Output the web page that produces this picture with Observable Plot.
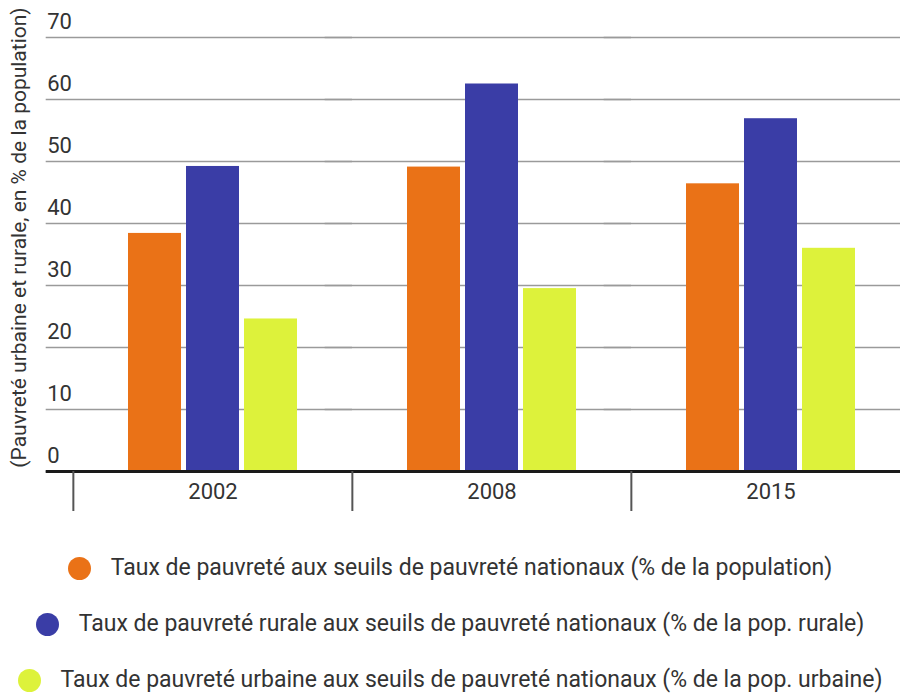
<!DOCTYPE html>
<html>
<head>
<meta charset="utf-8">
<script src="https://cdn.jsdelivr.net/npm/d3@7"></script>
<script src="https://cdn.jsdelivr.net/npm/@observablehq/plot@0.6"></script>
<style>
  body { margin: 0; background: #fff; font-family: Roboto, "Noto Sans", sans-serif; }
  #wrap { position: relative; width: 900px; height: 697px; overflow: hidden; background: #fff; }
  #legend { position: absolute; left: 0; top: 520px; width: 900px; padding-top: 20px; }
  .item { display: flex; align-items: center; justify-content: center; height: 56px; }
  .sw { width: 23px; height: 23px; border-radius: 50%; margin-right: 20px; flex: none; }
  .lbl { font-size: 23px; line-height: 26px; color: #333; white-space: nowrap; }
</style>
</head>
<body>
<div id="wrap"><div id="chart"></div><div id="legend"></div></div>
<script>
const years = ["2002", "2008", "2015"];
const seriesNames = [
  "Taux de pauvreté aux seuils de pauvreté nationaux (% de la population)",
  "Taux de pauvreté rurale aux seuils de pauvreté nationaux (% de la pop. rurale)",
  "Taux de pauvreté urbaine aux seuils de pauvreté nationaux (% de la pop. urbaine)"
];
const national = [38.4, 49.1, 46.4];
const rural = [49.2, 62.5, 56.9];
const urban = [24.6, 29.5, 36.0];
const yTicks = [0, 10, 20, 30, 40, 50, 60, 70];
const colors = ["#EA7217", "#3A3DA6", "#DDF23B"];
const yTitle = "(Pauvreté urbaine et rurale, en % de la population)";

const seriesValues = [national, rural, urban];
const table = years.flatMap((yr, i) =>
  seriesNames.map((s, j) => ({year: yr, series: s, value: seriesValues[j][i]}))
);

const plot = Plot.plot({
  width: 900,
  height: 520,
  marginTop: 37,
  marginBottom: 49,
  marginLeft: 45,
  marginRight: 0,
  style: {fontFamily: "Roboto, sans-serif", background: "#fff"},
  fx: {domain: years, range: [72.3, 911], padding: 0, label: null},
  x: {domain: seriesNames, paddingInner: 0.087, paddingOuter: 0.937, axis: null},
  y: {domain: [0, 70], axis: null},
  color: {domain: seriesNames, range: colors},
  marks: [
    Plot.ruleY(yTicks, {stroke: "#9a9a9a", strokeWidth: 1.6, insetLeft: -27.3}),
    Plot.barY(table, {fx: "year", x: "series", y: "value", fill: "series"}),
    Plot.ruleY([0], {stroke: "#1a1a1a", strokeWidth: 3, insetLeft: -27.3}),
    Plot.text(yTicks, {y: d => d, text: d => String(d), frameAnchor: "left", textAnchor: "start",
      dx: -26.3, dy: -16, fontSize: 22, fill: "#333", facetAnchor: "left"}),
    Plot.text([yTitle], {text: d => d, frameAnchor: "left", textAnchor: "middle", rotate: -90,
      dx: -54.3, dy: -17, fontSize: 21, fill: "#333", facetAnchor: "left"}),
    Plot.axisFx({anchor: "bottom", tickSize: 0, tickPadding: 12, fontSize: 22, fill: "#333", label: null}),
    Plot.axisFx({anchor: "bottom", tickSize: 40, tickFormat: () => "", dx: -139.65,
      stroke: "#555", strokeWidth: 2, label: null})
  ]
});
document.getElementById("chart").appendChild(plot);

const legend = document.getElementById("legend");
seriesNames.forEach((s, i) => {
  const item = document.createElement("div");
  item.className = "item";
  const sw = document.createElement("span");
  sw.className = "sw";
  sw.style.background = colors[i];
  const lbl = document.createElement("span");
  lbl.className = "lbl";
  lbl.textContent = s;
  item.appendChild(sw);
  item.appendChild(lbl);
  legend.appendChild(item);
});
</script>
</body>
</html>
